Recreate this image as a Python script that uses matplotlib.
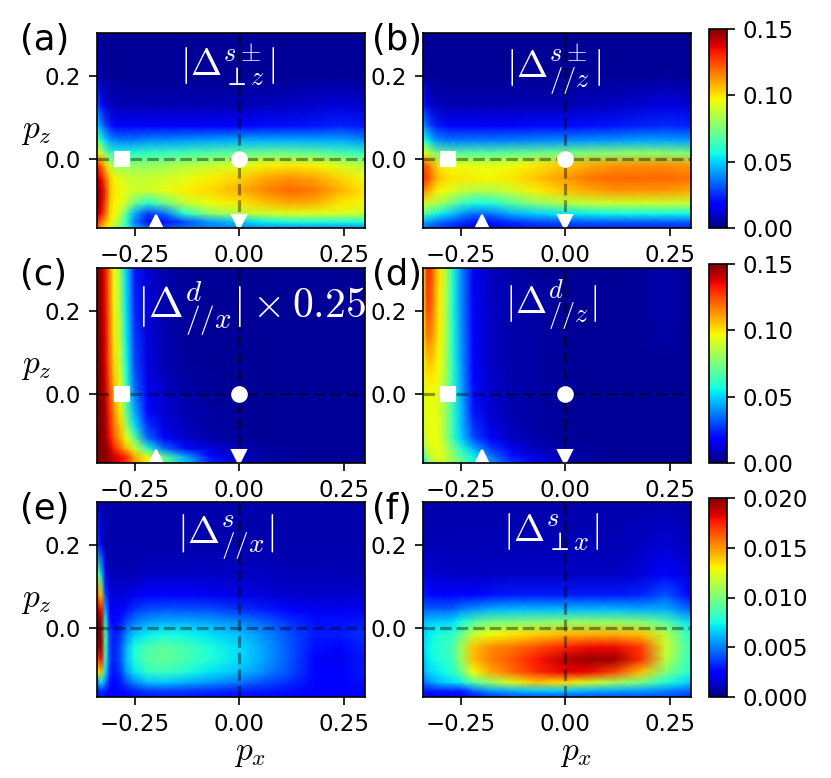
import numpy as np
import matplotlib
matplotlib.use('Agg')
import matplotlib.pyplot as plt

plt.rcParams['mathtext.fontset'] = 'cm'

# grid of momentum points (px along columns, pz along rows, bottom -> top)
px = [-0.34, -0.33, -0.32, -0.31, -0.30, -0.285, -0.27, -0.25, -0.22, -0.18,
      -0.13, -0.07, 0.0, 0.06, 0.12, 0.18, 0.24, 0.30]
pz = [-0.165, -0.15, -0.13, -0.105, -0.075, -0.045, -0.015, 0.015, 0.045,
      0.08, 0.13, 0.2, 0.305]

gap_a = [
    [0.120, 0.110, 0.100, 0.092, 0.085, 0.075, 0.060, 0.045, 0.035, 0.032, 0.035, 0.037, 0.038, 0.040, 0.040, 0.040, 0.040, 0.040],
    [0.130, 0.120, 0.108, 0.100, 0.092, 0.080, 0.060, 0.038, 0.020, 0.020, 0.030, 0.042, 0.048, 0.055, 0.058, 0.058, 0.058, 0.058],
    [0.145, 0.135, 0.120, 0.103, 0.097, 0.088, 0.068, 0.045, 0.028, 0.035, 0.060, 0.078, 0.085, 0.090, 0.093, 0.093, 0.092, 0.088],
    [0.150, 0.140, 0.125, 0.105, 0.098, 0.095, 0.088, 0.072, 0.060, 0.072, 0.088, 0.095, 0.100, 0.105, 0.110, 0.108, 0.100, 0.097],
    [0.150, 0.142, 0.130, 0.108, 0.100, 0.097, 0.093, 0.090, 0.090, 0.094, 0.098, 0.102, 0.108, 0.115, 0.120, 0.117, 0.108, 0.100],
    [0.145, 0.135, 0.120, 0.105, 0.098, 0.093, 0.090, 0.088, 0.088, 0.090, 0.094, 0.098, 0.103, 0.110, 0.113, 0.110, 0.103, 0.095],
    [0.130, 0.120, 0.105, 0.090, 0.083, 0.080, 0.080, 0.080, 0.080, 0.082, 0.085, 0.088, 0.092, 0.098, 0.100, 0.098, 0.092, 0.085],
    [0.100, 0.088, 0.075, 0.065, 0.060, 0.058, 0.058, 0.060, 0.062, 0.063, 0.065, 0.067, 0.070, 0.072, 0.072, 0.070, 0.066, 0.062],
    [0.075, 0.060, 0.050, 0.043, 0.040, 0.038, 0.038, 0.038, 0.040, 0.040, 0.042, 0.043, 0.045, 0.045, 0.045, 0.044, 0.044, 0.040],
    [0.050, 0.040, 0.030, 0.024, 0.020, 0.018, 0.017, 0.017, 0.017, 0.017, 0.017, 0.018, 0.019, 0.020, 0.021, 0.022, 0.024, 0.022],
    [0.035, 0.020, 0.012, 0.009, 0.008, 0.007, 0.007, 0.007, 0.007, 0.007, 0.007, 0.007, 0.007, 0.008, 0.009, 0.010, 0.012, 0.010],
    [0.010, 0.005, 0.004, 0.003, 0.003, 0.003, 0.003, 0.003, 0.003, 0.003, 0.003, 0.003, 0.003, 0.003, 0.003, 0.003, 0.004, 0.003],
    [0.003, 0.003, 0.003, 0.003, 0.003, 0.003, 0.003, 0.003, 0.003, 0.003, 0.003, 0.003, 0.003, 0.003, 0.003, 0.003, 0.003, 0.003],
]

gap_b = [
    [0.035, 0.033, 0.030, 0.028, 0.027, 0.025, 0.023, 0.020, 0.018, 0.018, 0.020, 0.022, 0.023, 0.024, 0.024, 0.024, 0.024, 0.024],
    [0.045, 0.042, 0.040, 0.037, 0.035, 0.032, 0.030, 0.027, 0.022, 0.022, 0.026, 0.030, 0.032, 0.033, 0.033, 0.033, 0.033, 0.033],
    [0.070, 0.065, 0.060, 0.057, 0.055, 0.052, 0.048, 0.042, 0.036, 0.036, 0.045, 0.050, 0.053, 0.055, 0.056, 0.056, 0.056, 0.056],
    [0.092, 0.090, 0.087, 0.085, 0.082, 0.078, 0.072, 0.065, 0.058, 0.058, 0.068, 0.078, 0.085, 0.088, 0.090, 0.090, 0.090, 0.088],
    [0.115, 0.110, 0.105, 0.100, 0.097, 0.095, 0.092, 0.088, 0.085, 0.085, 0.090, 0.098, 0.105, 0.110, 0.113, 0.113, 0.112, 0.110],
    [0.130, 0.125, 0.118, 0.110, 0.105, 0.102, 0.100, 0.100, 0.098, 0.097, 0.100, 0.105, 0.112, 0.118, 0.120, 0.120, 0.120, 0.118],
    [0.125, 0.120, 0.113, 0.106, 0.100, 0.097, 0.095, 0.095, 0.094, 0.094, 0.096, 0.100, 0.105, 0.110, 0.113, 0.114, 0.114, 0.112],
    [0.095, 0.090, 0.083, 0.077, 0.073, 0.070, 0.068, 0.068, 0.068, 0.068, 0.070, 0.072, 0.074, 0.076, 0.077, 0.078, 0.077, 0.075],
    [0.065, 0.055, 0.048, 0.042, 0.040, 0.038, 0.037, 0.037, 0.037, 0.037, 0.038, 0.039, 0.040, 0.041, 0.042, 0.043, 0.043, 0.042],
    [0.042, 0.035, 0.028, 0.024, 0.022, 0.020, 0.019, 0.019, 0.019, 0.019, 0.019, 0.020, 0.020, 0.021, 0.022, 0.024, 0.025, 0.024],
    [0.025, 0.015, 0.010, 0.008, 0.008, 0.007, 0.007, 0.007, 0.007, 0.007, 0.007, 0.007, 0.007, 0.008, 0.009, 0.011, 0.013, 0.011],
    [0.008, 0.004, 0.003, 0.003, 0.003, 0.003, 0.003, 0.003, 0.003, 0.003, 0.003, 0.003, 0.003, 0.003, 0.003, 0.003, 0.004, 0.003],
    [0.003, 0.003, 0.003, 0.003, 0.003, 0.003, 0.003, 0.003, 0.003, 0.003, 0.003, 0.003, 0.003, 0.003, 0.003, 0.003, 0.003, 0.003],
]

# already multiplied by 0.25
gap_c = [
    [0.150, 0.150, 0.148, 0.145, 0.140, 0.135, 0.128, 0.112, 0.095, 0.072, 0.048, 0.025, 0.010, 0.005, 0.004, 0.003, 0.003, 0.003],
    [0.150, 0.150, 0.148, 0.145, 0.140, 0.135, 0.130, 0.110, 0.095, 0.070, 0.045, 0.020, 0.008, 0.005, 0.004, 0.003, 0.003, 0.003],
    [0.150, 0.150, 0.148, 0.142, 0.132, 0.120, 0.107, 0.090, 0.060, 0.035, 0.020, 0.012, 0.007, 0.005, 0.004, 0.003, 0.003, 0.003],
    [0.150, 0.150, 0.145, 0.135, 0.122, 0.110, 0.095, 0.070, 0.035, 0.018, 0.010, 0.006, 0.004, 0.003, 0.003, 0.003, 0.003, 0.003],
    [0.150, 0.150, 0.145, 0.133, 0.118, 0.105, 0.080, 0.052, 0.026, 0.013, 0.008, 0.005, 0.004, 0.003, 0.003, 0.003, 0.003, 0.003],
    [0.150, 0.150, 0.143, 0.130, 0.115, 0.100, 0.072, 0.045, 0.020, 0.011, 0.007, 0.005, 0.003, 0.003, 0.003, 0.003, 0.003, 0.003],
    [0.150, 0.150, 0.142, 0.128, 0.112, 0.097, 0.066, 0.040, 0.017, 0.010, 0.006, 0.004, 0.003, 0.003, 0.003, 0.003, 0.003, 0.003],
    [0.150, 0.149, 0.140, 0.125, 0.108, 0.094, 0.062, 0.035, 0.015, 0.009, 0.005, 0.004, 0.003, 0.003, 0.003, 0.003, 0.003, 0.003],
    [0.150, 0.149, 0.138, 0.122, 0.105, 0.091, 0.059, 0.032, 0.014, 0.008, 0.005, 0.004, 0.003, 0.003, 0.003, 0.003, 0.003, 0.003],
    [0.150, 0.148, 0.137, 0.120, 0.103, 0.088, 0.056, 0.029, 0.013, 0.007, 0.004, 0.003, 0.003, 0.003, 0.003, 0.003, 0.003, 0.003],
    [0.150, 0.148, 0.136, 0.118, 0.100, 0.086, 0.054, 0.027, 0.012, 0.007, 0.004, 0.003, 0.003, 0.003, 0.003, 0.003, 0.003, 0.003],
    [0.150, 0.147, 0.135, 0.117, 0.098, 0.083, 0.052, 0.025, 0.012, 0.006, 0.004, 0.003, 0.003, 0.003, 0.003, 0.003, 0.003, 0.003],
    [0.150, 0.147, 0.134, 0.115, 0.096, 0.080, 0.050, 0.022, 0.011, 0.006, 0.004, 0.003, 0.003, 0.003, 0.003, 0.003, 0.003, 0.003],
]

gap_d = [
    [0.050, 0.070, 0.080, 0.085, 0.087, 0.085, 0.080, 0.072, 0.058, 0.042, 0.028, 0.016, 0.008, 0.005, 0.004, 0.003, 0.003, 0.003],
    [0.060, 0.080, 0.088, 0.092, 0.093, 0.088, 0.080, 0.070, 0.055, 0.038, 0.022, 0.012, 0.006, 0.004, 0.003, 0.003, 0.003, 0.003],
    [0.075, 0.088, 0.093, 0.095, 0.093, 0.085, 0.075, 0.060, 0.045, 0.028, 0.015, 0.008, 0.005, 0.004, 0.003, 0.003, 0.003, 0.003],
    [0.085, 0.092, 0.095, 0.096, 0.092, 0.080, 0.065, 0.050, 0.030, 0.016, 0.009, 0.006, 0.004, 0.003, 0.003, 0.003, 0.003, 0.003],
    [0.088, 0.094, 0.096, 0.095, 0.090, 0.080, 0.064, 0.048, 0.026, 0.013, 0.008, 0.005, 0.004, 0.003, 0.003, 0.003, 0.003, 0.003],
    [0.090, 0.095, 0.095, 0.094, 0.090, 0.080, 0.064, 0.047, 0.022, 0.011, 0.007, 0.005, 0.004, 0.003, 0.003, 0.003, 0.003, 0.003],
    [0.090, 0.095, 0.095, 0.094, 0.090, 0.080, 0.064, 0.046, 0.021, 0.010, 0.006, 0.005, 0.004, 0.003, 0.003, 0.003, 0.003, 0.003],
    [0.090, 0.097, 0.097, 0.095, 0.091, 0.080, 0.063, 0.045, 0.020, 0.010, 0.006, 0.005, 0.004, 0.003, 0.003, 0.003, 0.003, 0.003],
    [0.092, 0.100, 0.100, 0.098, 0.093, 0.081, 0.062, 0.044, 0.019, 0.010, 0.006, 0.005, 0.004, 0.003, 0.003, 0.003, 0.003, 0.003],
    [0.095, 0.105, 0.105, 0.100, 0.095, 0.082, 0.061, 0.043, 0.018, 0.009, 0.006, 0.005, 0.004, 0.003, 0.003, 0.003, 0.003, 0.003],
    [0.100, 0.115, 0.112, 0.105, 0.097, 0.083, 0.060, 0.042, 0.017, 0.009, 0.006, 0.005, 0.004, 0.003, 0.003, 0.004, 0.005, 0.003],
    [0.100, 0.125, 0.120, 0.108, 0.098, 0.083, 0.060, 0.041, 0.016, 0.009, 0.006, 0.005, 0.004, 0.003, 0.003, 0.004, 0.006, 0.003],
    [0.090, 0.130, 0.125, 0.110, 0.100, 0.085, 0.060, 0.040, 0.015, 0.009, 0.006, 0.004, 0.003, 0.003, 0.003, 0.004, 0.006, 0.003],
]

gap_e = [
    [0.0025, 0.0030, 0.0025, 0.0020, 0.0020, 0.0022, 0.0025, 0.0028, 0.0030, 0.0030, 0.0030, 0.0028, 0.0028, 0.0026, 0.0025, 0.0022, 0.0020, 0.0022],
    [0.0030, 0.0035, 0.0030, 0.0025, 0.0022, 0.0024, 0.0028, 0.0032, 0.0036, 0.0038, 0.0036, 0.0034, 0.0032, 0.0030, 0.0028, 0.0024, 0.0022, 0.0025],
    [0.0050, 0.0070, 0.0050, 0.0030, 0.0025, 0.0030, 0.0040, 0.0052, 0.0062, 0.0064, 0.0060, 0.0054, 0.0048, 0.0040, 0.0033, 0.0025, 0.0022, 0.0028],
    [0.0120, 0.0140, 0.0070, 0.0035, 0.0028, 0.0035, 0.0055, 0.0070, 0.0082, 0.0084, 0.0078, 0.0070, 0.0062, 0.0052, 0.0040, 0.0025, 0.0022, 0.0030],
    [0.0160, 0.0180, 0.0080, 0.0040, 0.0030, 0.0040, 0.0062, 0.0078, 0.0090, 0.0094, 0.0088, 0.0078, 0.0068, 0.0057, 0.0042, 0.0025, 0.0020, 0.0030],
    [0.0190, 0.0200, 0.0090, 0.0040, 0.0030, 0.0040, 0.0060, 0.0076, 0.0088, 0.0092, 0.0087, 0.0077, 0.0068, 0.0057, 0.0042, 0.0028, 0.0025, 0.0032],
    [0.0200, 0.0200, 0.0090, 0.0040, 0.0030, 0.0035, 0.0052, 0.0065, 0.0072, 0.0076, 0.0074, 0.0069, 0.0062, 0.0053, 0.0040, 0.0030, 0.0030, 0.0035],
    [0.0200, 0.0200, 0.0080, 0.0030, 0.0025, 0.0030, 0.0040, 0.0050, 0.0056, 0.0060, 0.0060, 0.0058, 0.0052, 0.0045, 0.0035, 0.0028, 0.0028, 0.0030],
    [0.0190, 0.0180, 0.0060, 0.0022, 0.0020, 0.0022, 0.0028, 0.0035, 0.0040, 0.0042, 0.0042, 0.0040, 0.0035, 0.0030, 0.0024, 0.0020, 0.0020, 0.0020],
    [0.0160, 0.0140, 0.0040, 0.0018, 0.0016, 0.0016, 0.0017, 0.0020, 0.0022, 0.0022, 0.0022, 0.0020, 0.0018, 0.0016, 0.0014, 0.0014, 0.0014, 0.0014],
    [0.0110, 0.0070, 0.0020, 0.0010, 0.0010, 0.0010, 0.0010, 0.0010, 0.0012, 0.0012, 0.0012, 0.0012, 0.0012, 0.0011, 0.0010, 0.0010, 0.0010, 0.0010],
    [0.0040, 0.0020, 0.0008, 0.0008, 0.0008, 0.0008, 0.0008, 0.0008, 0.0008, 0.0008, 0.0008, 0.0008, 0.0008, 0.0008, 0.0008, 0.0008, 0.0008, 0.0008],
    [0.0010, 0.0008, 0.0008, 0.0008, 0.0008, 0.0008, 0.0008, 0.0008, 0.0008, 0.0008, 0.0008, 0.0008, 0.0008, 0.0008, 0.0008, 0.0008, 0.0008, 0.0008],
]

gap_f = [
    [0.0022, 0.0022, 0.0022, 0.0022, 0.0022, 0.0022, 0.0024, 0.0026, 0.0028, 0.0035, 0.0040, 0.0040, 0.0040, 0.0040, 0.0040, 0.0040, 0.0040, 0.0035],
    [0.0030, 0.0030, 0.0030, 0.0030, 0.0030, 0.0030, 0.0030, 0.0030, 0.0045, 0.0055, 0.0060, 0.0065, 0.0065, 0.0060, 0.0058, 0.0055, 0.0050, 0.0045],
    [0.0045, 0.0050, 0.0055, 0.0060, 0.0062, 0.0065, 0.0068, 0.0072, 0.0090, 0.0105, 0.0122, 0.0140, 0.0135, 0.0120, 0.0108, 0.0098, 0.0078, 0.0065],
    [0.0055, 0.0065, 0.0068, 0.0070, 0.0072, 0.0075, 0.0080, 0.0095, 0.0128, 0.0145, 0.0158, 0.0172, 0.0182, 0.0180, 0.0166, 0.0142, 0.0100, 0.0075],
    [0.0060, 0.0070, 0.0073, 0.0075, 0.0078, 0.0080, 0.0085, 0.0105, 0.0142, 0.0155, 0.0163, 0.0177, 0.0190, 0.0196, 0.0194, 0.0172, 0.0115, 0.0080],
    [0.0065, 0.0072, 0.0075, 0.0078, 0.0080, 0.0083, 0.0088, 0.0108, 0.0140, 0.0152, 0.0157, 0.0165, 0.0175, 0.0180, 0.0180, 0.0170, 0.0120, 0.0082],
    [0.0065, 0.0070, 0.0072, 0.0075, 0.0078, 0.0080, 0.0082, 0.0095, 0.0118, 0.0128, 0.0133, 0.0138, 0.0143, 0.0145, 0.0145, 0.0142, 0.0115, 0.0078],
    [0.0060, 0.0065, 0.0066, 0.0066, 0.0067, 0.0067, 0.0068, 0.0075, 0.0090, 0.0098, 0.0100, 0.0102, 0.0105, 0.0105, 0.0105, 0.0102, 0.0090, 0.0068],
    [0.0045, 0.0045, 0.0045, 0.0045, 0.0045, 0.0045, 0.0046, 0.0050, 0.0055, 0.0060, 0.0062, 0.0062, 0.0062, 0.0062, 0.0062, 0.0060, 0.0060, 0.0045],
    [0.0030, 0.0028, 0.0025, 0.0025, 0.0025, 0.0025, 0.0025, 0.0025, 0.0025, 0.0028, 0.0030, 0.0030, 0.0030, 0.0030, 0.0030, 0.0032, 0.0042, 0.0025],
    [0.0018, 0.0015, 0.0015, 0.0014, 0.0014, 0.0013, 0.0013, 0.0012, 0.0012, 0.0012, 0.0012, 0.0012, 0.0012, 0.0012, 0.0012, 0.0015, 0.0025, 0.0015],
    [0.0010, 0.0010, 0.0010, 0.0010, 0.0010, 0.0010, 0.0010, 0.0010, 0.0010, 0.0010, 0.0010, 0.0010, 0.0010, 0.0010, 0.0010, 0.0012, 0.0015, 0.0010],
    [0.0008, 0.0008, 0.0008, 0.0008, 0.0008, 0.0008, 0.0008, 0.0008, 0.0008, 0.0008, 0.0008, 0.0008, 0.0008, 0.0008, 0.0008, 0.0008, 0.0008, 0.0008],
]

# special k points marked in the first four panels
mark_x = [-0.28, 0.0, -0.2, 0.0]
mark_y = [0.0, 0.0, -0.15, -0.15]
mark_shape = ['s', 'o', '^', 'v']

titles = [r'$|\Delta^{s\pm}_{\perp z}|$', r'$|\Delta^{s\pm}_{//z}|$',
          r'$|\Delta^{d}_{//x}|\times 0.25$', r'$|\Delta^{d}_{//z}|$',
          r'$|\Delta^{s}_{//x}|$', r'$|\Delta^{s}_{\perp x}|$']
title_size = [18, 18, 20, 18, 18.5, 18]
letters = ['(a)', '(b)', '(c)', '(d)', '(e)', '(f)']
data = [gap_a, gap_b, gap_c, gap_d, gap_e, gap_f]
vmax_row = [0.15, 0.15, 0.02]
cb_ticks = [[0, 0.05, 0.10, 0.15], [0, 0.05, 0.10, 0.15],
            [0, 0.005, 0.010, 0.015, 0.020]]

W, H = 831, 778
fig = plt.figure(figsize=(W / 150, H / 150), dpi=150)

col_left = [97, 423]
ax_w = 268
row_top = [33, 268, 502]
ax_h = 195
title_x = [0.31, 0.31, 0.15, 0.305, 0.30, 0.30]
label_x = [-0.289, -0.19]

X, Y = np.meshgrid(px, pz)
for i in range(6):
    r, c = divmod(i, 2)
    ax = fig.add_axes([col_left[c] / W, 1 - (row_top[r] + ax_h) / H, ax_w / W, ax_h / H])
    mesh = ax.pcolormesh(X, Y, np.array(data[i]), cmap='jet', vmin=0, vmax=vmax_row[r],
                         shading='gouraud', rasterized=True)
    ax.axhline(0, ls='--', color='k', alpha=0.4, lw=1.5)
    ax.axvline(0, ls='--', color='k', alpha=0.4, lw=1.5)
    if r < 2:
        for mx, my, ms in zip(mark_x, mark_y, mark_shape):
            ax.plot(mx, my, marker=ms, color='w', ms=7, ls='none')
    ax.set_xlim(-0.34, 0.30)
    ax.set_ylim(-0.165, 0.303)
    ax.set_xticks([-0.25, 0.0, 0.25])
    ax.set_yticks([0.0, 0.2])
    ax.tick_params(labelsize=11, length=4)
    ax.text(title_x[i], 0.95, titles[i], transform=ax.transAxes, color='w',
            fontsize=title_size[i], ha='left', va='top')
    ax.text(label_x[c], 1.05, letters[i], transform=ax.transAxes,
            fontsize=17, ha='left', va='top')
    if c == 0:
        ax.set_ylabel(r'$p_z$', rotation=0, fontsize=16, ha='center', va='center')
        ax.yaxis.set_label_coords(-0.225, 0.5)
    if r == 2:
        ax.set_xlabel(r'$p_x$', fontsize=16)
        ax.xaxis.set_label_coords(0.57, -0.2)
    if c == 1:
        cax = fig.add_axes([709 / W, 1 - (row_top[r] + ax_h) / H, 18 / W, (ax_h + 4) / H])
        cb = fig.colorbar(mesh, cax=cax, ticks=cb_ticks[r])
        cb.ax.tick_params(labelsize=11, length=4)

fig.savefig('out.png', dpi=150)
